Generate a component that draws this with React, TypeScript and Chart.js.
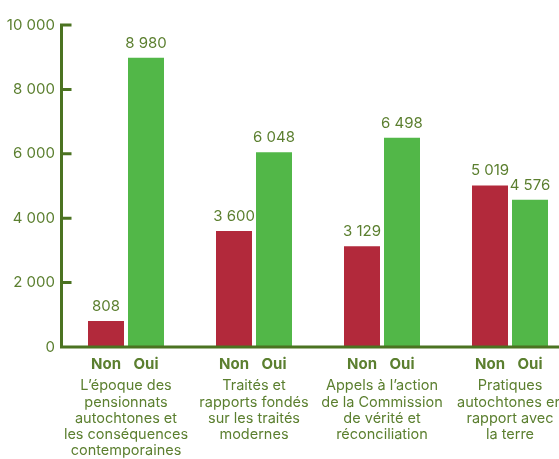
import { useEffect, useRef } from "react";
import { Chart, registerables } from "chart.js";

Chart.register(...registerables);

const categories: string[][] = [
  ["L’époque des", "pensionnats", "autochtones et", "les conséquences", "contemporaines"],
  ["Traités et", "rapports fondés", "sur les traités", "modernes"],
  ["Appels à l’action", "de la Commission", "de vérité et", "réconciliation"],
  ["Pratiques", "autochtones en", "rapport avec", "la terre"],
];
const seriesNames = ["Non", "Oui"];
const nonValues = [808, 3600, 3129, 5019];
const ouiValues = [8980, 6048, 6498, 4576];
const yTicks = [0, 2000, 4000, 6000, 8000, 10000];

const RED = "#b2293b";
const GREEN = "#52b748";
const TEXT = "#5b7f2f";
const AXIS = "#4b7321";
const FONT = "Inter";

const fmt = (v: number) => String(v).replace(/\B(?=(\d{3})+(?!\d))/g, " ");

const overlay = {
  id: "overlay",
  afterDatasetsDraw(chart: any) {
    const { ctx, chartArea, scales } = chart;
    const y = scales.y;
    ctx.save();
    chart.data.datasets.forEach((ds: any, di: number) => {
      const meta = chart.getDatasetMeta(di);
      meta.data.forEach((bar: any, i: number) => {
        ctx.fillStyle = TEXT;
        ctx.textAlign = "center";
        ctx.font = `15px ${FONT}`;
        ctx.textBaseline = "alphabetic";
        ctx.fillText(fmt(ds.data[i]), bar.x, bar.y - 10);
        ctx.font = `bold 15px ${FONT}`;
        ctx.textBaseline = "middle";
        ctx.fillText(seriesNames[di], bar.x, chartArea.bottom + 17);
      });
    });
    // axes
    const y0 = y.getPixelForValue(0);
    const yTop = y.getPixelForValue(yTicks[yTicks.length - 1]);
    const ax = chartArea.left - 0.5;
    ctx.strokeStyle = AXIS;
    ctx.lineWidth = 3;
    ctx.lineCap = "butt";
    ctx.beginPath();
    ctx.moveTo(ax, yTop - 1.5);
    ctx.lineTo(ax, y0 + 1.5);
    ctx.moveTo(ax - 1.5, y0);
    ctx.lineTo(chart.width, y0);
    yTicks.forEach((t) => {
      const py = y.getPixelForValue(t);
      ctx.moveTo(ax, py);
      ctx.lineTo(ax + 10, py);
    });
    ctx.stroke();
    ctx.restore();
  },
};

export default function App() {
  const ref = useRef<HTMLCanvasElement | null>(null);
  useEffect(() => {
    if (!ref.current) return;
    const chart = new Chart(ref.current, {
      type: "bar",
      data: {
        labels: categories,
        datasets: [
          {
            label: seriesNames[0],
            data: nonValues,
            backgroundColor: RED,
            barPercentage: 0.9,
            categoryPercentage: 0.625,
          },
          {
            label: seriesNames[1],
            data: ouiValues,
            backgroundColor: GREEN,
            barPercentage: 0.9,
            categoryPercentage: 0.625,
          },
        ],
      },
      options: {
        animation: false,
        responsive: false,
        devicePixelRatio: 1,
        layout: { padding: { top: 25, left: 0, right: 0, bottom: 0 } },
        plugins: { legend: { display: false }, tooltip: { enabled: false } },
        scales: {
          x: {
            grid: { display: false, drawTicks: true, tickLength: 31 },
            border: { display: false },
            ticks: {
              color: TEXT,
              font: { family: FONT, size: 14.5, lineHeight: 1.117 },
              padding: 0,
              maxRotation: 0,
              autoSkip: false,
            },
            afterFit: (s: any) => {
              s.height = 112;
            },
          },
          y: {
            min: 0,
            max: 10000,
            grid: { display: false, drawTicks: false },
            border: { display: false },
            ticks: {
              stepSize: 2000,
              color: TEXT,
              font: { family: FONT, size: 15 },
              padding: 7,
              callback: (v: any) => fmt(Number(v)),
            },
            afterFit: (s: any) => {
              s.width = 62;
            },
          },
        },
      },
      plugins: [overlay],
    });
    return () => chart.destroy();
  }, []);
  return (
    <div
      style={{
        position: "absolute",
        left: 0,
        top: 0,
        width: 559,
        height: 459,
        overflow: "hidden",
        background: "#fff",
      }}
    >
      <canvas ref={ref} width={574} height={459} />
    </div>
  );
}
